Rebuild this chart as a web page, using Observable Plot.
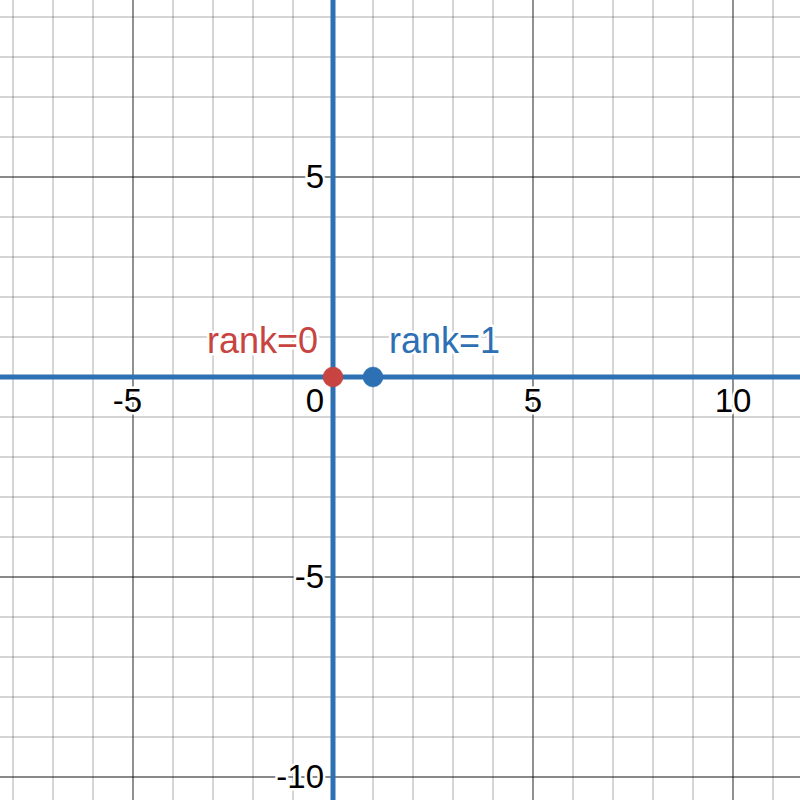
<!DOCTYPE html>
<html>
<head>
<meta charset="utf-8">
<script src="https://cdn.jsdelivr.net/npm/d3@7"></script>
<script src="https://cdn.jsdelivr.net/npm/@observablehq/plot@0.6"></script>
<style>
  html, body { margin: 0; padding: 0; background: #fff; }
  svg { display: block; }
</style>
</head>
<body>
<div id="chart"></div>
<script>
// Visible window (graph units)
const xDomain = [-8.3125, 11.6875];
const yDomain = [-10.5875, 9.4125];

// Grid lines
const xMinor = [-8, -7, -6, -4, -3, -2, -1, 1, 2, 3, 4, 6, 7, 8, 9, 11];
const xMajor = [-5, 0, 5, 10];
const yMinor = [-9, -8, -7, -6, -4, -3, -2, -1, 1, 2, 3, 4, 6, 7, 8, 9];
const yMajor = [-10, -5, 0, 5];

// Tick labels
const xTickLabelsPos = [5, 10];
const xTickLabelsNeg = [-5];
const yTickLabels = [-10, -5, 5];
const originLabel = [0];

// Points
const ranks = [0, 1];
const rankY = [0, 0];
const rankLabels = ["rank=0", "rank=1"];
const rankColors = ["#c74440", "#2d70b3"];

const points = ranks.map((r, i) => ({x: r, y: rankY[i], label: rankLabels[i], color: rankColors[i]}));

const font = "Arial, 'Liberation Sans', sans-serif";
const blue = "#2d70b3";
const halo = {stroke: "#fff", strokeWidth: 5, paintOrder: "stroke", strokeLinejoin: "round"};
const tickFont = 33;

const plot = Plot.plot({
  width: 800,
  height: 800,
  margin: 0,
  x: {domain: xDomain, axis: null},
  y: {domain: yDomain, axis: null},
  style: {fontFamily: font, background: "#fff"},
  marks: [
    Plot.ruleX(xMinor, {stroke: "#000", strokeOpacity: 0.33, strokeWidth: 1}),
    Plot.ruleY(yMinor, {stroke: "#000", strokeOpacity: 0.33, strokeWidth: 1}),
    Plot.ruleX(xMajor, {stroke: "#000", strokeOpacity: 0.62, strokeWidth: 1.4}),
    Plot.ruleY(yMajor, {stroke: "#000", strokeOpacity: 0.62, strokeWidth: 1.4}),
    // x tick labels (positive, centred)
    Plot.text(xTickLabelsPos, {
      x: d => d, y: () => 0, text: d => String(d),
      dy: 24, fontSize: tickFont, fill: "#000", textAnchor: "middle", ...halo
    }),
    // x tick labels (negative, digit centred on the tick)
    Plot.text(xTickLabelsNeg, {
      x: d => d, y: () => 0, text: d => "-" + Math.abs(d),
      dx: 9, dy: 24, fontSize: tickFont, fill: "#000", textAnchor: "end", ...halo
    }),
    // origin label
    Plot.text(originLabel, {
      x: () => 0, y: () => 0, text: d => String(d),
      dx: -9, dy: 24, fontSize: tickFont, fill: "#000", textAnchor: "end", ...halo
    }),
    // y tick labels
    Plot.text(yTickLabels, {
      x: () => 0, y: d => d, text: d => d < 0 ? "-" + Math.abs(d) : String(d),
      dx: -9, dy: 0, fontSize: tickFont, fill: "#000", textAnchor: "end", ...halo
    }),
    // blue axis lines
    Plot.ruleX([0], {stroke: blue, strokeWidth: 5}),
    Plot.ruleY([0], {stroke: blue, strokeWidth: 5}),
    // points
    Plot.dot(points, {x: "x", y: "y", r: 10, fill: "color", stroke: "color", strokeWidth: 0.5}),
    // point labels
    Plot.text(points.filter(d => d.x === 0), {
      x: "x", y: "y", text: "label", fill: "color", fontSize: 36,
      dx: -15, dy: -36, textAnchor: "end", ...halo
    }),
    Plot.text(points.filter(d => d.x !== 0), {
      x: "x", y: "y", text: "label", fill: "color", fontSize: 36,
      dx: 16, dy: -36, textAnchor: "start", ...halo
    })
  ]
});
document.getElementById("chart").appendChild(plot);
</script>
</body>
</html>
